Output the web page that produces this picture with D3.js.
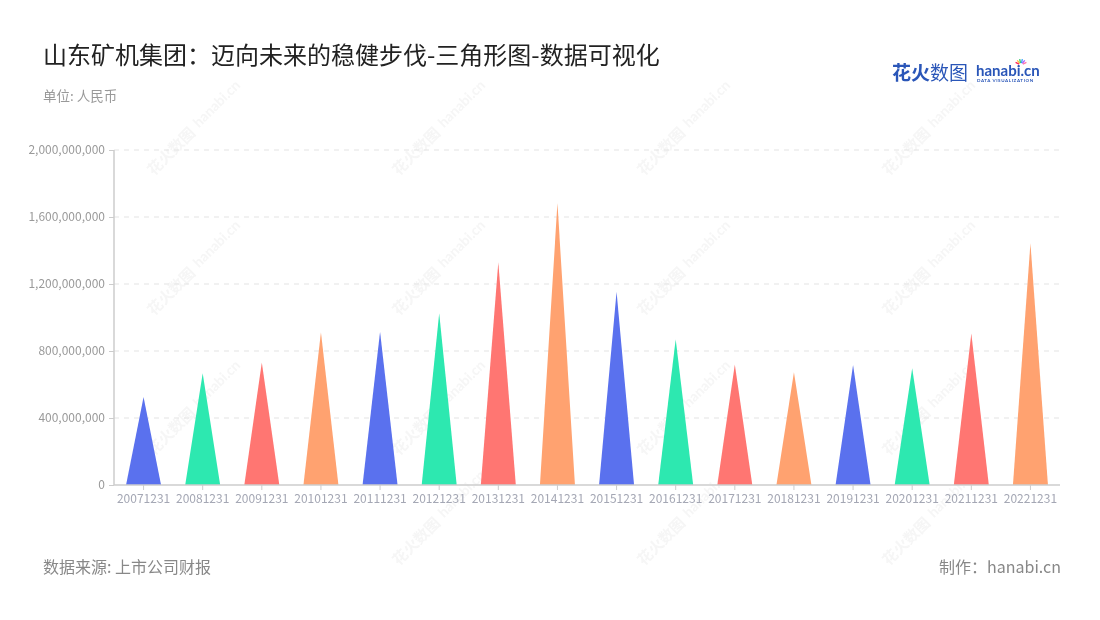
<!DOCTYPE html>
<html><head><meta charset="utf-8">
<script src="https://cdn.jsdelivr.net/npm/d3@7/dist/d3.min.js"></script>
<style>body{margin:0;background:#fff;font-family:"Noto Sans CJK SC","Noto Sans",sans-serif;}</style>
</head><body>
<svg id="c" width="1100" height="620"></svg>
<script>
const categories = ["20071231","20081231","20091231","20101231","20111231","20121231","20131231","20141231","20151231","20161231","20171231","20181231","20191231","20201231","20211231","20221231"];
const values = [525e6,667e6,732e6,912e6,915e6,1025e6,1330e6,1682e6,1154e6,870e6,720e6,673e6,716e6,697e6,905e6,1443e6];
const yTicks = [0,4e8,8e8,12e8,16e8,20e8];
const palette = ["#5a71ee","#2de8b0","#ff7672","#ffa270"];

const svg = d3.select("#c");
const font = '"Noto Sans CJK SC","Noto Sans",sans-serif';
const m = {l:114, r:1060, t:150, b:485};

// watermarks
const wm = svg.append("g").attr("opacity",0.5);
[[175,155],[420,155],[665,155],[910,155],[175,295],[420,295],[665,295],[910,295],[175,435],[420,435],[665,435],[910,435],[420,545],[665,545],[910,545]].forEach(([x,y])=>{
  const g = wm.append("g").attr("transform",`translate(${x},${y}) rotate(-45)`);
  g.append("text").attr("x",-30).attr("y",0).attr("font-family",font).attr("font-size",15).attr("font-weight","bold").attr("fill","#ececec").text("花火数图");
  g.append("text").attr("x",36).attr("y",-2).attr("font-family","Lato,sans-serif").attr("font-size",14).attr("font-weight","bold").attr("fill","#ececec").text("hanabi.cn");
});

const x = d3.scaleBand().domain(categories).range([m.l,m.r]).paddingInner(0).paddingOuter(0);
const y = d3.scaleLinear().domain([0,2e9]).range([m.b,m.t]);

// grid
svg.append("g").selectAll("line").data(yTicks.slice(1)).join("line")
  .attr("x1",m.l).attr("x2",m.r).attr("y1",d=>y(d)).attr("y2",d=>y(d))
  .attr("stroke","#e3e3e3").attr("stroke-dasharray","5,5").attr("stroke-width",1);

// y axis
const ya = svg.append("g").attr("transform",`translate(${m.l},0)`)
  .call(d3.axisLeft(y).tickValues(yTicks).tickFormat(d3.format(",")).tickSize(5).tickPadding(4));
ya.select(".domain").attr("stroke","#ccc").attr("stroke-width",1.5).attr("d",`M0,${m.b}V${m.t}`);
ya.selectAll(".tick line").attr("stroke","#ccc");
ya.selectAll(".tick text").attr("fill","#9a9a9a").attr("font-size",12).attr("font-family",font);

// triangles
const tw = 35;
svg.append("g").selectAll("path").data(values).join("path")
  .attr("d",(d,i)=>{const cx=x(categories[i])+x.bandwidth()/2;return `M${cx-tw/2},${y(0)}L${cx},${y(d)}L${cx+tw/2},${y(0)}Z`;})
  .attr("fill",(d,i)=>palette[i%4]);

// x axis
const xa = svg.append("g").attr("transform",`translate(0,${m.b})`)
  .call(d3.axisBottom(x).tickSize(5).tickPadding(4));
xa.select(".domain").attr("stroke","#ccc").attr("stroke-width",1.5).attr("d",`M${m.l},0H${m.r}`);
xa.selectAll(".tick line").attr("stroke","#ccc");
xa.selectAll(".tick text").attr("fill","#a4a7b4").attr("font-size",12).attr("font-family",font);

// titles
svg.append("text").attr("x",43).attr("y",64).attr("font-family",font).attr("font-size",24).attr("fill","#222")
  .text("山东矿机集团：迈向未来的稳健步伐-三角形图-数据可视化");
svg.append("text").attr("x",43).attr("y",101).attr("font-family",font).attr("font-size",13.5).attr("fill","#999")
  .text("单位: 人民币");
svg.append("text").attr("x",43).attr("y",573).attr("font-family",font).attr("font-size",16).attr("fill","#888")
  .text("数据来源: 上市公司财报");
svg.append("text").attr("x",1061).attr("y",573).attr("text-anchor","end").attr("font-family",font).attr("font-size",16).attr("fill","#888")
  .text("制作：hanabi.cn");

// logo
svg.append("text").attr("x",892).attr("y",80).attr("font-family",font).attr("font-size",19).attr("font-weight","bold").attr("fill","#2a56b8").text("花火");
svg.append("text").attr("x",930).attr("y",80).attr("font-family",font).attr("font-size",19).attr("fill","#2a56b8").text("数图");
svg.append("text").attr("x",976).attr("y",76).attr("font-family","Lato,sans-serif").attr("font-size",15).attr("font-weight","bold").attr("fill","#2a56b8").text("hanabi.cn");
svg.append("text").attr("x",977).attr("y",82).attr("font-family","Lato,sans-serif").attr("font-size",4.5).attr("font-weight","bold").attr("fill","#2a56b8").attr("letter-spacing",0.6).text("DATA VISUALIZATION");
const sc = ["#f25","#fb3","#3c6","#39f","#a5f","#f7a"];
sc.forEach((c,i)=>{const a=-Math.PI/2+(i-2.5)*0.45;svg.append("line").attr("x1",1021+Math.cos(a)*2).attr("y1",65+Math.sin(a)*2).attr("x2",1021+Math.cos(a)*6).attr("y2",65+Math.sin(a)*6).attr("stroke",c).attr("stroke-width",1.3);});
</script>
</body></html>
